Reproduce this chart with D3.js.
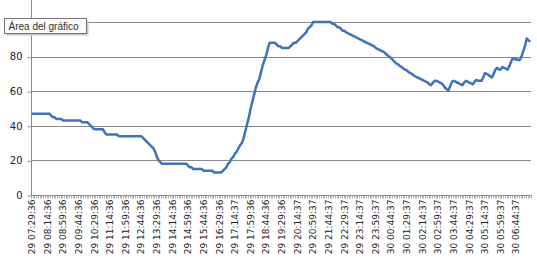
<!DOCTYPE html>
<html>
<head>
<meta charset="utf-8">
<script src="https://cdn.jsdelivr.net/npm/d3@7"></script>
<style>
  body { margin: 0; background: #fff; }
  svg { display: block; }
</style>
</head>
<body>
<svg id="chart" width="537" height="260"></svg>
<script>
// valores cada 5 minutos (288 puntos)
var values = [
  47, 47, 47, 47, 47, 47, 47, 47, 47, 47,
  47, 46, 45, 45, 44, 44, 44, 44, 43, 43,
  43, 43, 43, 43, 43, 43, 43, 43, 43, 42,
  42, 42, 42, 41, 40, 39, 38, 38, 38, 38,
  38, 38, 36, 35, 35, 35, 35, 35, 35, 35,
  34, 34, 34, 34, 34, 34, 34, 34, 34, 34,
  34, 34, 34, 34, 33, 32, 31, 30, 29, 28,
  27, 25, 22, 20, 19, 18, 18, 18, 18, 18,
  18, 18, 18, 18, 18, 18, 18, 18, 18, 18,
  17, 16, 16, 15, 15, 15, 15, 15, 15, 14,
  14, 14, 14, 14, 14, 13, 13, 13, 13, 13,
  14, 15, 16, 18, 19, 21, 22, 24, 25, 27,
  29, 30, 33, 37, 41, 45, 50, 54, 58, 62,
  65, 67, 71, 75, 78, 81, 85, 88, 88, 88,
  88, 87, 86, 86, 85, 85, 85, 85, 85, 86,
  87, 88, 88, 89, 90, 91, 92, 93, 94, 96,
  97, 98, 100, 100, 100, 100, 100, 100, 100, 100,
  100, 100, 100, 99, 99, 98, 97, 97, 96, 95,
  95, 94, 93.5, 93, 92.5, 92, 91.5, 91, 90.5, 90,
  89.5, 89, 88.5, 88, 87.5, 87, 86.5, 86, 85, 84.5,
  84, 83.5, 83, 82.5, 81.5, 80.5, 80, 79, 78, 77,
  76, 75.5, 74.5, 74, 73, 72.5, 72, 71, 70.5, 70,
  69, 68.5, 68, 67.5, 67, 66.5, 66, 65.5, 65, 64,
  63.5, 65, 66, 66, 65.5, 65, 64.5, 63.5, 62, 61,
  60.5, 63, 65.5, 66, 65.5, 65, 64.5, 64, 63.5, 65,
  66, 65.5, 65, 64.5, 64, 65.5, 66.5, 66, 66, 66,
  68, 70.5, 70, 69.5, 68.5, 68, 70, 72.5, 73.5, 72.5,
  72.5, 74, 73.5, 73, 72.5, 74.5, 77, 79, 78.5, 78.5,
  78, 78, 80, 83, 86, 90.5, 89.5, 88.5
];

// etiquetas del eje X (una cada 9 categorías)
var tickLabels = [
  "29 07:29:36", "29 08:14:36", "29 08:59:36", "29 09:44:36", "29 10:29:36",
  "29 11:14:36", "29 11:59:36", "29 12:44:36", "29 13:29:36", "29 14:14:36",
  "29 14:59:36", "29 15:44:36", "29 16:29:36", "29 17:14:37", "29 17:59:36",
  "29 18:44:36", "29 19:29:36", "29 20:14:37", "29 20:59:37", "29 21:44:37",
  "29 22:29:37", "29 23:14:37", "29 23:59:37", "30 00:44:37", "30 01:29:37",
  "30 02:14:37", "30 02:59:37", "30 03:44:37", "30 04:29:37", "30 05:14:37",
  "30 05:59:37", "30 06:44:37"
];
var labelStep = 9;
var yTicks = [0, 20, 40, 60, 80, 100];

var categories = d3.range(values.length);

var svg = d3.select("#chart");
var left = 31, right = 531, bottom = 195;

var x = d3.scaleBand().domain(categories).range([left, right]).padding(0);
var y = d3.scaleLinear().domain([0, 120]).range([bottom, bottom - 207.6]);

// líneas de división
svg.append("g")
  .selectAll("line")
  .data(yTicks.slice(1))
  .enter()
  .append("line")
  .attr("x1", left).attr("x2", right)
  .attr("y1", function(d) { return Math.round(y(d)) + 0.5; })
  .attr("y2", function(d) { return Math.round(y(d)) + 0.5; })
  .attr("stroke", "#8a8a8a")
  .attr("stroke-width", 1);

// eje Y
var yAxis = d3.axisLeft(y).tickValues(yTicks).tickSize(4).tickPadding(5);
var gy = svg.append("g")
  .attr("transform", "translate(" + (left + 0.5) + ",0)")
  .call(yAxis);
gy.select(".domain").attr("stroke", "#8a8a8a").attr("d", "M0,0V" + (bottom + 0.5));
gy.selectAll(".tick line").attr("stroke", "#8a8a8a")
  .attr("transform", function() { return "translate(0,0.5)"; });
gy.selectAll(".tick text")
  .attr("font-family", "DejaVu Sans, Verdana, sans-serif")
  .attr("font-size", "10px")
  .attr("fill", "#222");
// la etiqueta 100 queda tapada por el cuadro de "Área del gráfico"
gy.selectAll(".tick text").filter(function(d) { return d == 100; }).remove();

// eje X
var gx = svg.append("g").attr("transform", "translate(0," + (bottom + 0.5) + ")");
gx.append("line")
  .attr("x1", left).attr("x2", right + 1)
  .attr("stroke", "#8a8a8a");
gx.selectAll("line.tk")
  .data(d3.range(values.length + 1))
  .enter()
  .append("line")
  .attr("class", "tk")
  .attr("x1", function(d) { return Math.round(left + d * x.bandwidth()) + 0.5; })
  .attr("x2", function(d) { return Math.round(left + d * x.bandwidth()) + 0.5; })
  .attr("y1", 0).attr("y2", 3)
  .attr("stroke", "#9a9a9a")
  .attr("stroke-width", 0.8);

gx.selectAll("text")
  .data(tickLabels)
  .enter()
  .append("text")
  .attr("transform", function(d, i) {
    var cx = x(i * labelStep) + x.bandwidth() / 2;
    return "translate(" + cx + ",4) rotate(-90)";
  })
  .attr("dy", "0.35em")
  .attr("text-anchor", "end")
  .attr("font-family", "DejaVu Sans, Verdana, sans-serif")
  .attr("font-size", "9px")
  .attr("fill", "#222")
  .text(function(d) { return d; });

// serie
var line = d3.line()
  .x(function(d, i) { return x(i) + x.bandwidth() / 2; })
  .y(function(d) { return y(d); });

svg.append("path")
  .datum(values)
  .attr("d", line)
  .attr("fill", "none")
  .attr("stroke", "#3f72b8")
  .attr("stroke-width", 2.5)
  .attr("stroke-linejoin", "round");

// info sobre herramientas
var tip = svg.append("g").attr("transform", "translate(4.5,18.5)");
tip.append("rect")
  .attr("x", 2).attr("y", 2).attr("width", 82).attr("height", 15)
  .attr("fill", "#c8c8c8");
tip.append("rect")
  .attr("width", 82).attr("height", 15)
  .attr("fill", "#fbfbfb")
  .attr("stroke", "#767676");
tip.append("text")
  .attr("x", 4).attr("y", 11)
  .attr("font-family", "Liberation Sans, Arial, sans-serif")
  .attr("font-size", "10px")
  .attr("fill", "#333")
  .text("Área del gráfico");
</script>
</body>
</html>
